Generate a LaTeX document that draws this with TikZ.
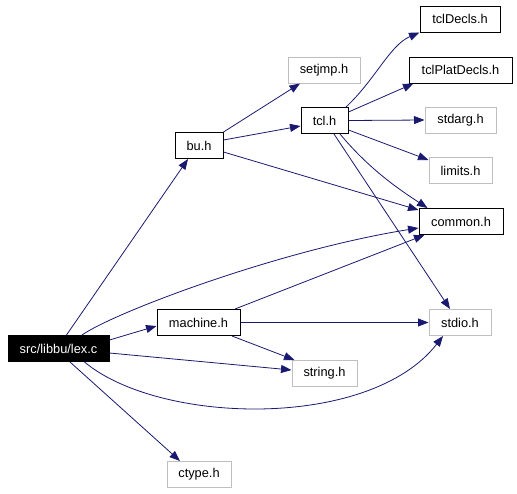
\documentclass[tikz,border=0pt]{standalone}
\usepackage{fontspec}
\setmainfont{Liberation Sans}
\usetikzlibrary{arrows.meta}
\definecolor{edgeblue}{RGB}{25, 25, 112}
\definecolor{sysgray}{RGB}{191, 191, 191}
\begin{document}
\begin{tikzpicture}[
    x=1pt, y=-1pt,
    hfile/.style={rectangle, draw=black, line width=1pt, fill=white,
                  minimum height=26pt, inner sep=0pt,
                  font=\fontsize{12.8}{14}\selectfont},
    sysfile/.style={hfile, draw=sysgray},
    rootfile/.style={hfile, fill=black, text=white},
    dep/.style={-{Triangle[length=10.5pt, width=8pt]}, line width=0.8pt, color=edgeblue}
  ]
    \useasboundingbox (0,0) rectangle (517,493);

    \node[rootfile, minimum width=101pt] (lex)      at (58.5, 348.5) {src/libbu/lex.c};
    \node[hfile,    minimum width=48pt]  (bu)       at (199,  145.5) {bu.h};
    \node[sysfile,  minimum width=72pt]  (setjmp)   at (324,  70)    {setjmp.h};
    \node[hfile,    minimum width=47pt]  (tcl)      at (324.5,120.5) {tcl.h};
    \node[hfile,    minimum width=80pt]  (tcldecls) at (460,  19)    {tclDecls.h};
    \node[hfile,    minimum width=103pt] (tclplat)  at (460.5,70)    {tclPlatDecls.h};
    \node[sysfile,  minimum width=71pt]  (stdarg)   at (460.5,120)   {stdarg.h};
    \node[sysfile,  minimum width=63pt]  (limits)   at (460.5,170.5) {limits.h};
    \node[hfile,    minimum width=84pt]  (common)   at (461,  221.5) {common.h};
    \node[hfile,    minimum width=83pt]  (machine)  at (198.5,322.5) {machine.h};
    \node[sysfile,  minimum width=62pt]  (stdio)    at (460,  322.5) {stdio.h};
    \node[sysfile,  minimum width=65pt]  (string)   at (324.5,373.5) {string.h};
    \node[sysfile,  minimum width=64pt]  (ctype)    at (199,  474.5) {ctype.h};

    \draw[dep] ([xshift=8pt]lex.north) -- ([xshift=-11pt]bu.south);
    \draw[dep] ([xshift=23.5pt]lex.north) .. controls (115,312) and (280,250) .. ([yshift=-6.5pt]common.west);
    \draw[dep] ([yshift=8.5pt]lex.east) -- ([yshift=-3.5pt]machine.west);
    \draw[dep] ([yshift=-4.5pt]lex.east) -- ([yshift=3.5pt]string.west);
    \draw[dep] ([xshift=26pt]lex.south) .. controls (160,425) and (370,430) .. ([xshift=-17pt]stdio.south);
    \draw[dep] ([xshift=11.5pt]lex.south) -- ([xshift=-19pt]ctype.north);

    \draw[dep] (bu.north east) -- ([xshift=-24pt]setjmp.south);
    \draw[dep] ([yshift=5.5pt]bu.east) -- ([yshift=-5.5pt]tcl.west);
    \draw[dep] ([yshift=-6.5pt]bu.east) -- ([yshift=11.5pt]common.west);

    \draw[dep] ([xshift=21.5pt]tcl.north) .. controls (375,80) and (390,45) .. (tcldecls.south west);
    \draw[dep] ([yshift=8.5pt]tcl.east) -- ([xshift=5pt]tclplat.south west);
    \draw[dep] (tcl.east) -- (stdarg.west);
    \draw[dep] ([yshift=-9.5pt]tcl.east) -- ([yshift=-3pt]limits.north west);
    \draw[dep] ([xshift=15.5pt]tcl.south) .. controls (370,170) and (400,190) .. ([xshift=9pt]common.north west);
    \draw[dep] ([xshift=9.5pt]tcl.south) -- ([xshift=-10pt]stdio.north);

    \draw[dep] ([xshift=36.5pt]machine.north) -- ([xshift=6pt]common.south west);
    \draw[dep] (machine.east) -- (stdio.west);
    \draw[dep] ([xshift=33.5pt]machine.south) -- ([xshift=3pt]string.north west);
  \end{tikzpicture}
\end{document}
